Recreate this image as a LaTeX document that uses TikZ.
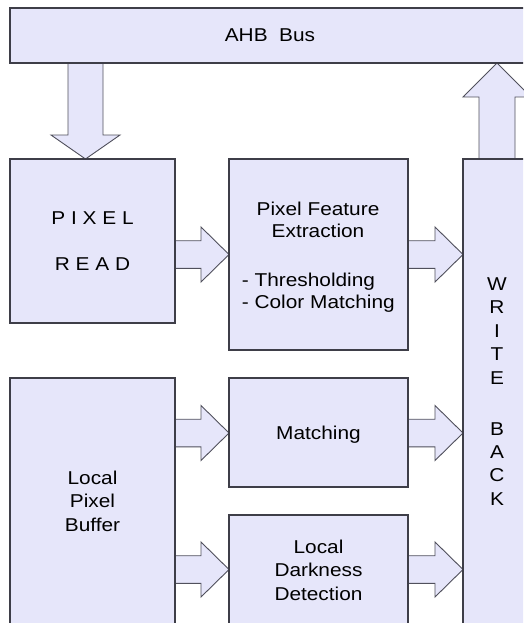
\documentclass[tikz,border=0pt]{standalone}
\usepackage{fontspec}
\setmainfont[FakeStretch=1.12]{Liberation Sans}
\usetikzlibrary{calc,backgrounds}

\definecolor{blockfill}{RGB}{230,230,250}
\definecolor{blockline}{RGB}{62,62,72}
\definecolor{arrowline}{RGB}{80,80,92}

% horizontal block arrow from the east side of #1 to the west side of #2 at height #3
\newcommand{\rightblock}[3]{%
  \coordinate (s) at (#1.east |- 0,#3);
  \coordinate (t) at (#2.west |- 0,#3);
  \fill[blockfill] ($(s)+(0,-13.8)$) -- ($(t)+(-28,-13.8)$) -- ($(t)+(-28,-27.5)$)
    -- (t) -- ($(t)+(-28,27.5)$) -- ($(t)+(-28,13.8)$) -- ($(s)+(0,13.8)$) -- cycle;
  \draw[arrowstroke] ($(s)+(0,-13.8)$) -- ($(t)+(-28,-13.8)$) -- ($(t)+(-28,-27.5)$)
    -- (t) -- ($(t)+(-28,27.5)$) -- ($(t)+(-28,13.8)$) -- ($(s)+(0,13.8)$);
}

\begin{document}
\begin{tikzpicture}[x=1pt,y=-1pt,
  block/.style={draw=blockline, line width=1.2pt, fill=blockfill, inner sep=0pt,
    outer sep=0pt, align=center, text depth=0pt,
    font=\fontsize{18.6}{23.4}\selectfont},
  txt/.style={inner sep=0pt, anchor=base, font=\fontsize{18.6}{22}\selectfont},
  arrowstroke/.style={draw=arrowline, line width=0.9pt, line join=miter}]

\useasboundingbox (0,0) rectangle (523,623);
\clip (0,0) rectangle (523,623);

% blocks
\node[block, minimum width=520, minimum height=55] (bus) at (270,35.5) {AHB\ \ Bus};
\node[block, minimum width=165, minimum height=164] (read) at (92.5,241)
  {P I X E L\\[23.3pt]R E A D};
\node[block, minimum width=179, minimum height=191] (feat) at (318.5,254.5) {};
\node[block, minimum width=68, minimum height=465] (wb) at (497,391.5)
  {W\\R\\I\\T\\E\\[27.7pt]B\\A\\C\\K};
\node[block, minimum width=165, minimum height=246] (buf) at (92.5,501)
  {Local\\Pixel\\Buffer};
\node[block, minimum width=179, minimum height=109] (match) at (318.5,432.5)
  {Matching};
\node[block, minimum width=179, minimum height=110] (dark) at (318.5,570)
  {Local\\Darkness\\Detection};

% text of the feature extraction block
\node[txt] (ft1) at (318,215) {Pixel Feature};
\node[txt] (ft2) at (318,237) {Extraction};
\node[txt, anchor=base west] (fl1) at (241.7,286.7) {- Thresholding};
\node[txt, anchor=base west] (fl2) at (241.7,308.3) {- Color Matching};

\begin{scope}[on background layer]
  % bus to pixel read
  \coordinate (da) at (bus.south -| 85.5,0);
  \coordinate (db) at (read.north -| 85.5,0);
  \fill[blockfill] ($(da)+(-17.5,0)$) -- ($(db)+(-17.5,-24)$) -- ($(db)+(-34.5,-24)$)
    -- (db) -- ($(db)+(34.5,-24)$) -- ($(db)+(17.5,-24)$) -- ($(da)+(17.5,0)$) -- cycle;
  \draw[arrowstroke] ($(da)+(-17.5,0)$) -- ($(db)+(-17.5,-24)$) -- ($(db)+(-34.5,-24)$)
    -- (db) -- ($(db)+(34.5,-24)$) -- ($(db)+(17.5,-24)$) -- ($(da)+(17.5,0)$);

  % write back to bus
  \coordinate (ua) at (wb.north);
  \coordinate (ub) at (bus.south -| wb.north);
  \fill[blockfill] ($(ua)+(-18,0)$) -- ($(ub)+(-18,34)$) -- ($(ub)+(-34,34)$)
    -- (ub) -- ($(ub)+(34,34)$) -- ($(ub)+(18,34)$) -- ($(ua)+(18,0)$) -- cycle;
  \draw[arrowstroke] ($(ua)+(-18,0)$) -- ($(ub)+(-18,34)$) -- ($(ub)+(-34,34)$)
    -- (ub) -- ($(ub)+(34,34)$) -- ($(ub)+(18,34)$) -- ($(ua)+(18,0)$);

  % data flow arrows
  \rightblock{read}{feat}{254.5}
  \rightblock{feat}{wb}{254.5}
  \rightblock{buf}{match}{433}
  \rightblock{match}{wb}{433}
  \rightblock{buf}{dark}{569.5}
  \rightblock{dark}{wb}{569.5}
\end{scope}
\end{tikzpicture}
\end{document}
